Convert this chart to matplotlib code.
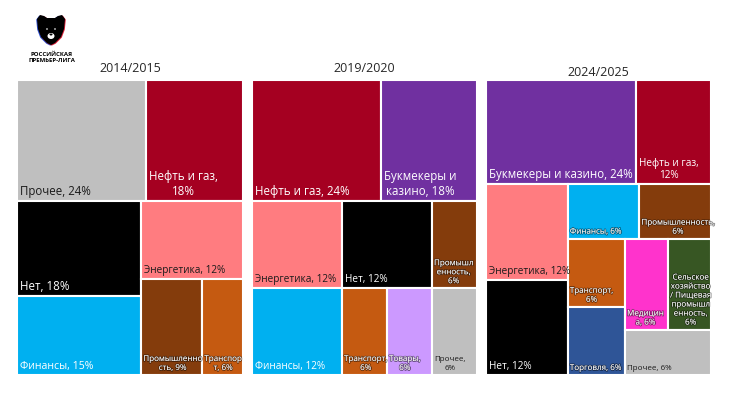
"""
Sponsors of RPL clubs by industry: three treemaps (2014/15, 2019/20, 2024/25).
"""

import matplotlib
matplotlib.use("Agg")
import matplotlib.pyplot as plt
import matplotlib.patheffects as pe
from matplotlib.patches import Rectangle, Polygon, Ellipse
from matplotlib.transforms import offset_copy

plt.rcParams["font.family"] = ["Open Sans", "DejaVu Sans"]


# ----------------------------------------------------------------------
# Data (shares of sponsors, %)
# ----------------------------------------------------------------------
SEASONS = ["2014/2015", "2019/2020", "2024/2025"]

sectors_1415 = ["Прочее", "Нефть и газ", "Нет", "Финансы", "Энергетика",
                "Промышленность", "Транспорт"]
shares_1415 = [24, 18, 18, 15, 12, 9, 6]
text_1415 = ["Прочее, 24%", "Нефть и газ,\n18%", "Нет, 18%", "Финансы, 15%",
             "Энергетика, 12%", "Промышленно\nсть, 9%", "Транспор\nт, 6%"]

sectors_1920 = ["Нефть и газ", "Букмекеры и казино", "Энергетика", "Финансы",
                "Нет", "Промышленность", "Транспорт", "Товары", "Прочее"]
shares_1920 = [24, 18, 12, 12, 12, 6, 6, 6, 6]
text_1920 = ["Нефть и газ, 24%", "Букмекеры и\nказино, 18%", "Энергетика, 12%",
             "Финансы, 12%", "Нет, 12%", "Промышл\nенность,\n6%",
             "Транспорт,\n6%", "Товары,\n6%", "Прочее,\n6%"]

sectors_2425 = ["Букмекеры и казино", "Нефть и газ", "Энергетика", "Нет",
                "Финансы", "Промышленность", "Транспорт", "Торговля",
                "Медицина", "Сельское хозяйство", "Прочее"]
shares_2425 = [24, 12, 12, 12, 6, 6, 6, 6, 6, 6, 6]
text_2425 = ["Букмекеры и казино, 24%", "Нефть и газ,\n12%", "Энергетика, 12%",
             "Нет, 12%", "Финансы, 6%", "Промышленность,\n6%", "Транспорт,\n6%",
             "Торговля, 6%", "Медицин\nа, 6%",
             "Сельское\nхозяйство\n/ Пищевая\nпромышл\nенность,\n6%",
             "Прочее, 6%"]

# ----------------------------------------------------------------------
# Styles
# ----------------------------------------------------------------------
COLORS = {
    "Прочее": "#BFBFBF",
    "Нефть и газ": "#A50021",
    "Нет": "#000000",
    "Финансы": "#00B0F0",
    "Энергетика": "#FF7C80",
    "Промышленность": "#843C0C",
    "Транспорт": "#C55A11",
    "Букмекеры и казино": "#7030A0",
    "Товары": "#CC99FF",
    "Торговля": "#2F5597",
    "Медицина": "#FF33CC",
    "Сельское хозяйство": "#375623",
}
DARK_TEXT = {"Прочее", "Энергетика"}
LABEL_SIZE = {24: 8.3, 18: 8.3, 15: 7.6, 12: 7.2}   # anything smaller -> 5.8

# Split structure of each treemap (indices into the arrays above):
# "h" = children side by side, "v" = children stacked top to bottom.
LAYOUT_1415 = ("v", [("h", [0, 1]),
                     ("h", [("v", [2, 3]), ("v", [4, ("h", [5, 6])])])])
LAYOUT_1920 = ("v", [("h", [0, 1]),
                     ("h", [("v", [2, 3]),
                            ("v", [("h", [4, 5]), ("h", [6, 7, 8])])])])
LAYOUT_2425 = ("v", [("h", [0, 1]),
                     ("h", [("v", [2, 3]),
                            ("v", [("h", [4, 5]),
                                   ("h", [("v", [6, 7]),
                                          ("v", [("h", [8, 9]), 10])])])])])

W, H = 730, 411
PANELS_X = [(17, 243), (252, 477), (486, 711)]   # pixel extents
PANEL_TOP, PANEL_BOTTOM = 80, 375
TITLE_Y = [69, 68, 72]


def node_total(node, vals):
    if isinstance(node, int):
        return vals[node]
    return sum(node_total(c, vals) for c in node[1])


def slice_layout(node, vals, x, y, w, h, out):
    if isinstance(node, int):
        out[node] = (x, y, w, h)
        return
    direction, kids = node
    tot = node_total(node, vals)
    for k in kids:
        frac = node_total(k, vals) / tot
        if direction == "h":
            slice_layout(k, vals, x, y, w * frac, h, out)
            x += w * frac
        else:
            slice_layout(k, vals, x, y, w, h * frac, out)
            y += h * frac


fig = plt.figure(figsize=(W / 100, H / 100), dpi=100)

charts = [
    (sectors_1415, shares_1415, text_1415, LAYOUT_1415),
    (sectors_1920, shares_1920, text_1920, LAYOUT_1920),
    (sectors_2425, shares_2425, text_2425, LAYOUT_2425),
]

for (x0, x1), ty, season, (sectors, shares, texts, layout) in zip(
        PANELS_X, TITLE_Y, SEASONS, charts):
    ax = fig.add_axes([x0 / W, 1 - PANEL_BOTTOM / H,
                       (x1 - x0) / W, (PANEL_BOTTOM - PANEL_TOP) / H])
    ax.set_xlim(0, 1)
    ax.set_ylim(1, 0)
    ax.axis("off")

    rects = {}
    slice_layout(layout, shares, 0.0, 0.0, 1.0, 1.0, rects)
    big_tr = offset_copy(ax.transData, fig=fig, x=3, y=3, units="dots")
    small_tr = offset_copy(ax.transData, fig=fig, x=2, y=3, units="dots")

    for i, sector in enumerate(sectors):
        x, y, w, h = rects[i]
        ax.add_patch(Rectangle((x, y), w, h, facecolor=COLORS[sector],
                               edgecolor="white", linewidth=1.5))
        tcolor = "#1a1a1a" if sector in DARK_TEXT else "white"
        if shares[i] in LABEL_SIZE:
            kw = dict(fontsize=LABEL_SIZE[shares[i]], transform=big_tr)
        else:
            kw = dict(fontsize=5.8, transform=small_tr, linespacing=1.4)
            if tcolor == "white":
                kw["path_effects"] = [pe.withStroke(linewidth=1.2,
                                                    foreground=(0, 0, 0, 0.45))]
        ax.text(x, y + h, texts[i], ha="left", va="bottom",
                multialignment="center", color=tcolor, **kw)

    fig.text((x0 + x1) / 2 / W, 1 - ty / H, season, ha="center", va="center",
             fontsize=9, color="#262626")

# ----------------------------------------------------------------------
# League logo (top left)
# ----------------------------------------------------------------------
lax = fig.add_axes([28 / W, 1 - 50 / H, 50 / W, 40 / H])
lax.set_xlim(0, 50)
lax.set_ylim(40, 0)
lax.axis("off")
head = [(9, 9), (12, 5), (16, 6), (19, 8), (27, 8), (30, 6), (34, 5), (37, 9),
        (36, 19), (33, 27), (27, 33), (23, 35), (19, 33), (13, 27), (10, 19)]
for dx, dy, col in [(-0.8, 0.6, "#3050d0"), (0.8, 0.6, "#e0203a"), (0, 0, "black")]:
    lax.add_patch(Polygon([(px + dx, py + dy) for px, py in head], closed=True,
                          facecolor=col, edgecolor="none"))
lax.add_patch(Ellipse((23, 26), 7, 6, facecolor="white", edgecolor="none"))
lax.add_patch(Ellipse((23, 24.5), 3, 2, facecolor="black", edgecolor="none"))
lax.add_patch(Ellipse((19, 19), 1.6, 1.6, facecolor="white", edgecolor="none"))
lax.add_patch(Ellipse((27, 19), 1.6, 1.6, facecolor="white", edgecolor="none"))
fig.text(52 / W, 1 - 54 / H, "РОССИЙСКАЯ", ha="center", va="center",
         fontsize=4.3, fontweight="bold", color="black")
fig.text(52 / W, 1 - 61 / H, "ПРЕМЬЕР-ЛИГА", ha="center", va="center",
         fontsize=4.3, fontweight="bold", color="black")

fig.savefig("out.png", dpi=100)
